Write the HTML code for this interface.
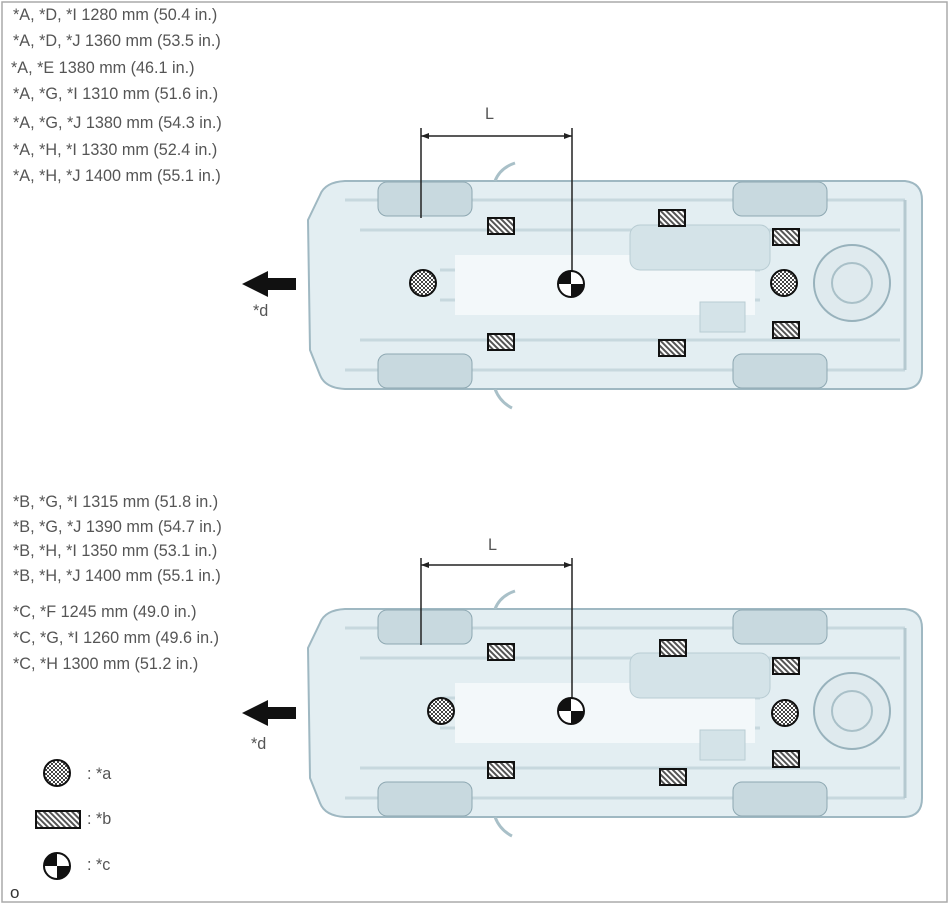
<!DOCTYPE html>
<html><head><meta charset="utf-8"><style>
html,body{margin:0;padding:0;background:#fff}
svg{display:block}
text{font-family:"Liberation Sans",Arial,sans-serif;fill:#555}
</style></head><body>
<svg width="950" height="906" viewBox="0 0 950 906" xmlns="http://www.w3.org/2000/svg">
<defs>
<pattern id="chk" width="4" height="4" patternUnits="userSpaceOnUse"><rect width="4" height="4" fill="#fff"/><rect width="2" height="2" fill="#444"/><rect x="2" y="2" width="2" height="2" fill="#444"/></pattern>
<pattern id="hat" width="4" height="4" patternUnits="userSpaceOnUse" patternTransform="rotate(-45)"><rect width="4" height="4" fill="#fff"/><rect width="2" height="4" fill="#555"/></pattern>
<g id="car">
<path d="M320,195 Q325,182 345,181 L905,181 Q922,183 922,200 L922,370 Q922,388 905,389 L345,389 Q325,388 320,375 L310,350 L308,220 Z" fill="#e3eef2" stroke="#9fb8c2" stroke-width="2"/>
<path d="M345,200 L905,200 M345,370 L905,370 M360,230 L900,230 M360,340 L900,340 M440,270 L760,270 M440,300 L760,300" stroke="#c7d8de" stroke-width="3" fill="none"/>
<rect x="455" y="255" width="300" height="60" fill="#f3f8fa"/>
<rect x="630" y="225" width="140" height="45" rx="10" fill="#d4e3e8" stroke="#b8ccd3"/>
<rect x="700" y="302" width="45" height="30" fill="#d4e3e8" stroke="#b8ccd3"/>
<circle cx="852" cy="283" r="38" fill="#dfeaee" stroke="#98b2bc" stroke-width="2"/>
<circle cx="852" cy="283" r="20" fill="none" stroke="#a9c0c8" stroke-width="2"/>
<rect x="378" y="182" width="94" height="34" rx="9" fill="#c8d9df" stroke="#8ea8b2"/>
<rect x="378" y="354" width="94" height="34" rx="9" fill="#c8d9df" stroke="#8ea8b2"/>
<rect x="733" y="182" width="94" height="34" rx="9" fill="#c8d9df" stroke="#8ea8b2"/>
<rect x="733" y="354" width="94" height="34" rx="9" fill="#c8d9df" stroke="#8ea8b2"/>
<path d="M495,181 Q500,168 515,163 M495,389 Q500,402 512,408" stroke="#a9c0c8" stroke-width="3" fill="none"/>
<path d="M905,200 L905,370" stroke="#b5c9d0" stroke-width="3"/>
</g>
<g id="circ"><circle r="13" fill="url(#chk)" stroke="#111" stroke-width="2"/></g>
<g id="rct"><rect x="-13" y="-8" width="26" height="16" fill="url(#hat)" stroke="#111" stroke-width="2"/></g>
<g id="cg"><circle r="13" fill="#fff" stroke="#111" stroke-width="2"/><path d="M0,0 L-13,0 A13,13 0 0 1 0,-13 Z M0,0 L13,0 A13,13 0 0 1 0,13 Z" fill="#111"/></g>
<g id="arr"><path d="M242,284 L268,271 L268,278 L296,278 L296,290 L268,290 L268,297 Z" fill="#111"/></g>
</defs>
<rect x="2" y="2" width="945" height="900" fill="none" stroke="#aaa" stroke-width="1.5"/>

<g font-size="16.2">
<text x="13" y="20">*A, *D, *I 1280 mm (50.4 in.)</text>
<text x="13" y="46">*A, *D, *J 1360 mm (53.5 in.)</text>
<text x="11" y="73">*A, *E 1380 mm (46.1 in.)</text>
<text x="13" y="99">*A, *G, *I 1310 mm (51.6 in.)</text>
<text x="13" y="128">*A, *G, *J 1380 mm (54.3 in.)</text>
<text x="13" y="155">*A, *H, *I 1330 mm (52.4 in.)</text>
<text x="13" y="181">*A, *H, *J 1400 mm (55.1 in.)</text>
<text x="13" y="507">*B, *G, *I 1315 mm (51.8 in.)</text>
<text x="13" y="532">*B, *G, *J 1390 mm (54.7 in.)</text>
<text x="13" y="556">*B, *H, *I 1350 mm (53.1 in.)</text>
<text x="13" y="581">*B, *H, *J 1400 mm (55.1 in.)</text>
<text x="13" y="617">*C, *F 1245 mm (49.0 in.)</text>
<text x="13" y="643">*C, *G, *I 1260 mm (49.6 in.)</text>
<text x="13" y="669">*C, *H 1300 mm (51.2 in.)</text>
<text x="485" y="119">L</text>
<text x="488" y="550">L</text>
<text x="253" y="316">*d</text>
<text x="251" y="749">*d</text>
<text x="87" y="779">: *a</text>
<text x="87" y="824">: *b</text>
<text x="87" y="870">: *c</text>
<text x="10" y="898" font-size="17" style="fill:#333">o</text>
</g>

<use href="#car"/>
<use href="#car" transform="translate(0,428)"/>
<use href="#arr"/>
<use href="#arr" transform="translate(0,429)"/>

<g stroke="#222" stroke-width="1.5" fill="none">
<path d="M421,128 L421,218 M572,128 L572,272 M421,136 L572,136"/>
<path d="M421,558 L421,645 M572,558 L572,700 M421,565 L572,565"/>
</g>
<g fill="#222"><path d="M421,136 l8,-3 v6z M572,136 l-8,-3 v6z M421,565 l8,-3 v6z M572,565 l-8,-3 v6z"/></g>

<use href="#circ" x="423" y="283"/><use href="#circ" x="784" y="283"/>
<use href="#cg" x="571" y="284"/>
<use href="#rct" x="501" y="226"/><use href="#rct" x="501" y="342"/>
<use href="#rct" x="672" y="218"/><use href="#rct" x="672" y="348"/>
<use href="#rct" x="786" y="237"/><use href="#rct" x="786" y="330"/>

<use href="#circ" x="441" y="711"/><use href="#circ" x="785" y="713"/>
<use href="#cg" x="571" y="711"/>
<use href="#rct" x="501" y="652"/><use href="#rct" x="501" y="770"/>
<use href="#rct" x="673" y="648"/><use href="#rct" x="673" y="777"/>
<use href="#rct" x="786" y="666"/><use href="#rct" x="786" y="759"/>

<use href="#circ" x="57" y="773"/>
<rect x="36" y="811" width="44" height="17" fill="url(#hat)" stroke="#111" stroke-width="2"/>
<use href="#cg" x="57" y="866"/>
</svg>
</body></html>
